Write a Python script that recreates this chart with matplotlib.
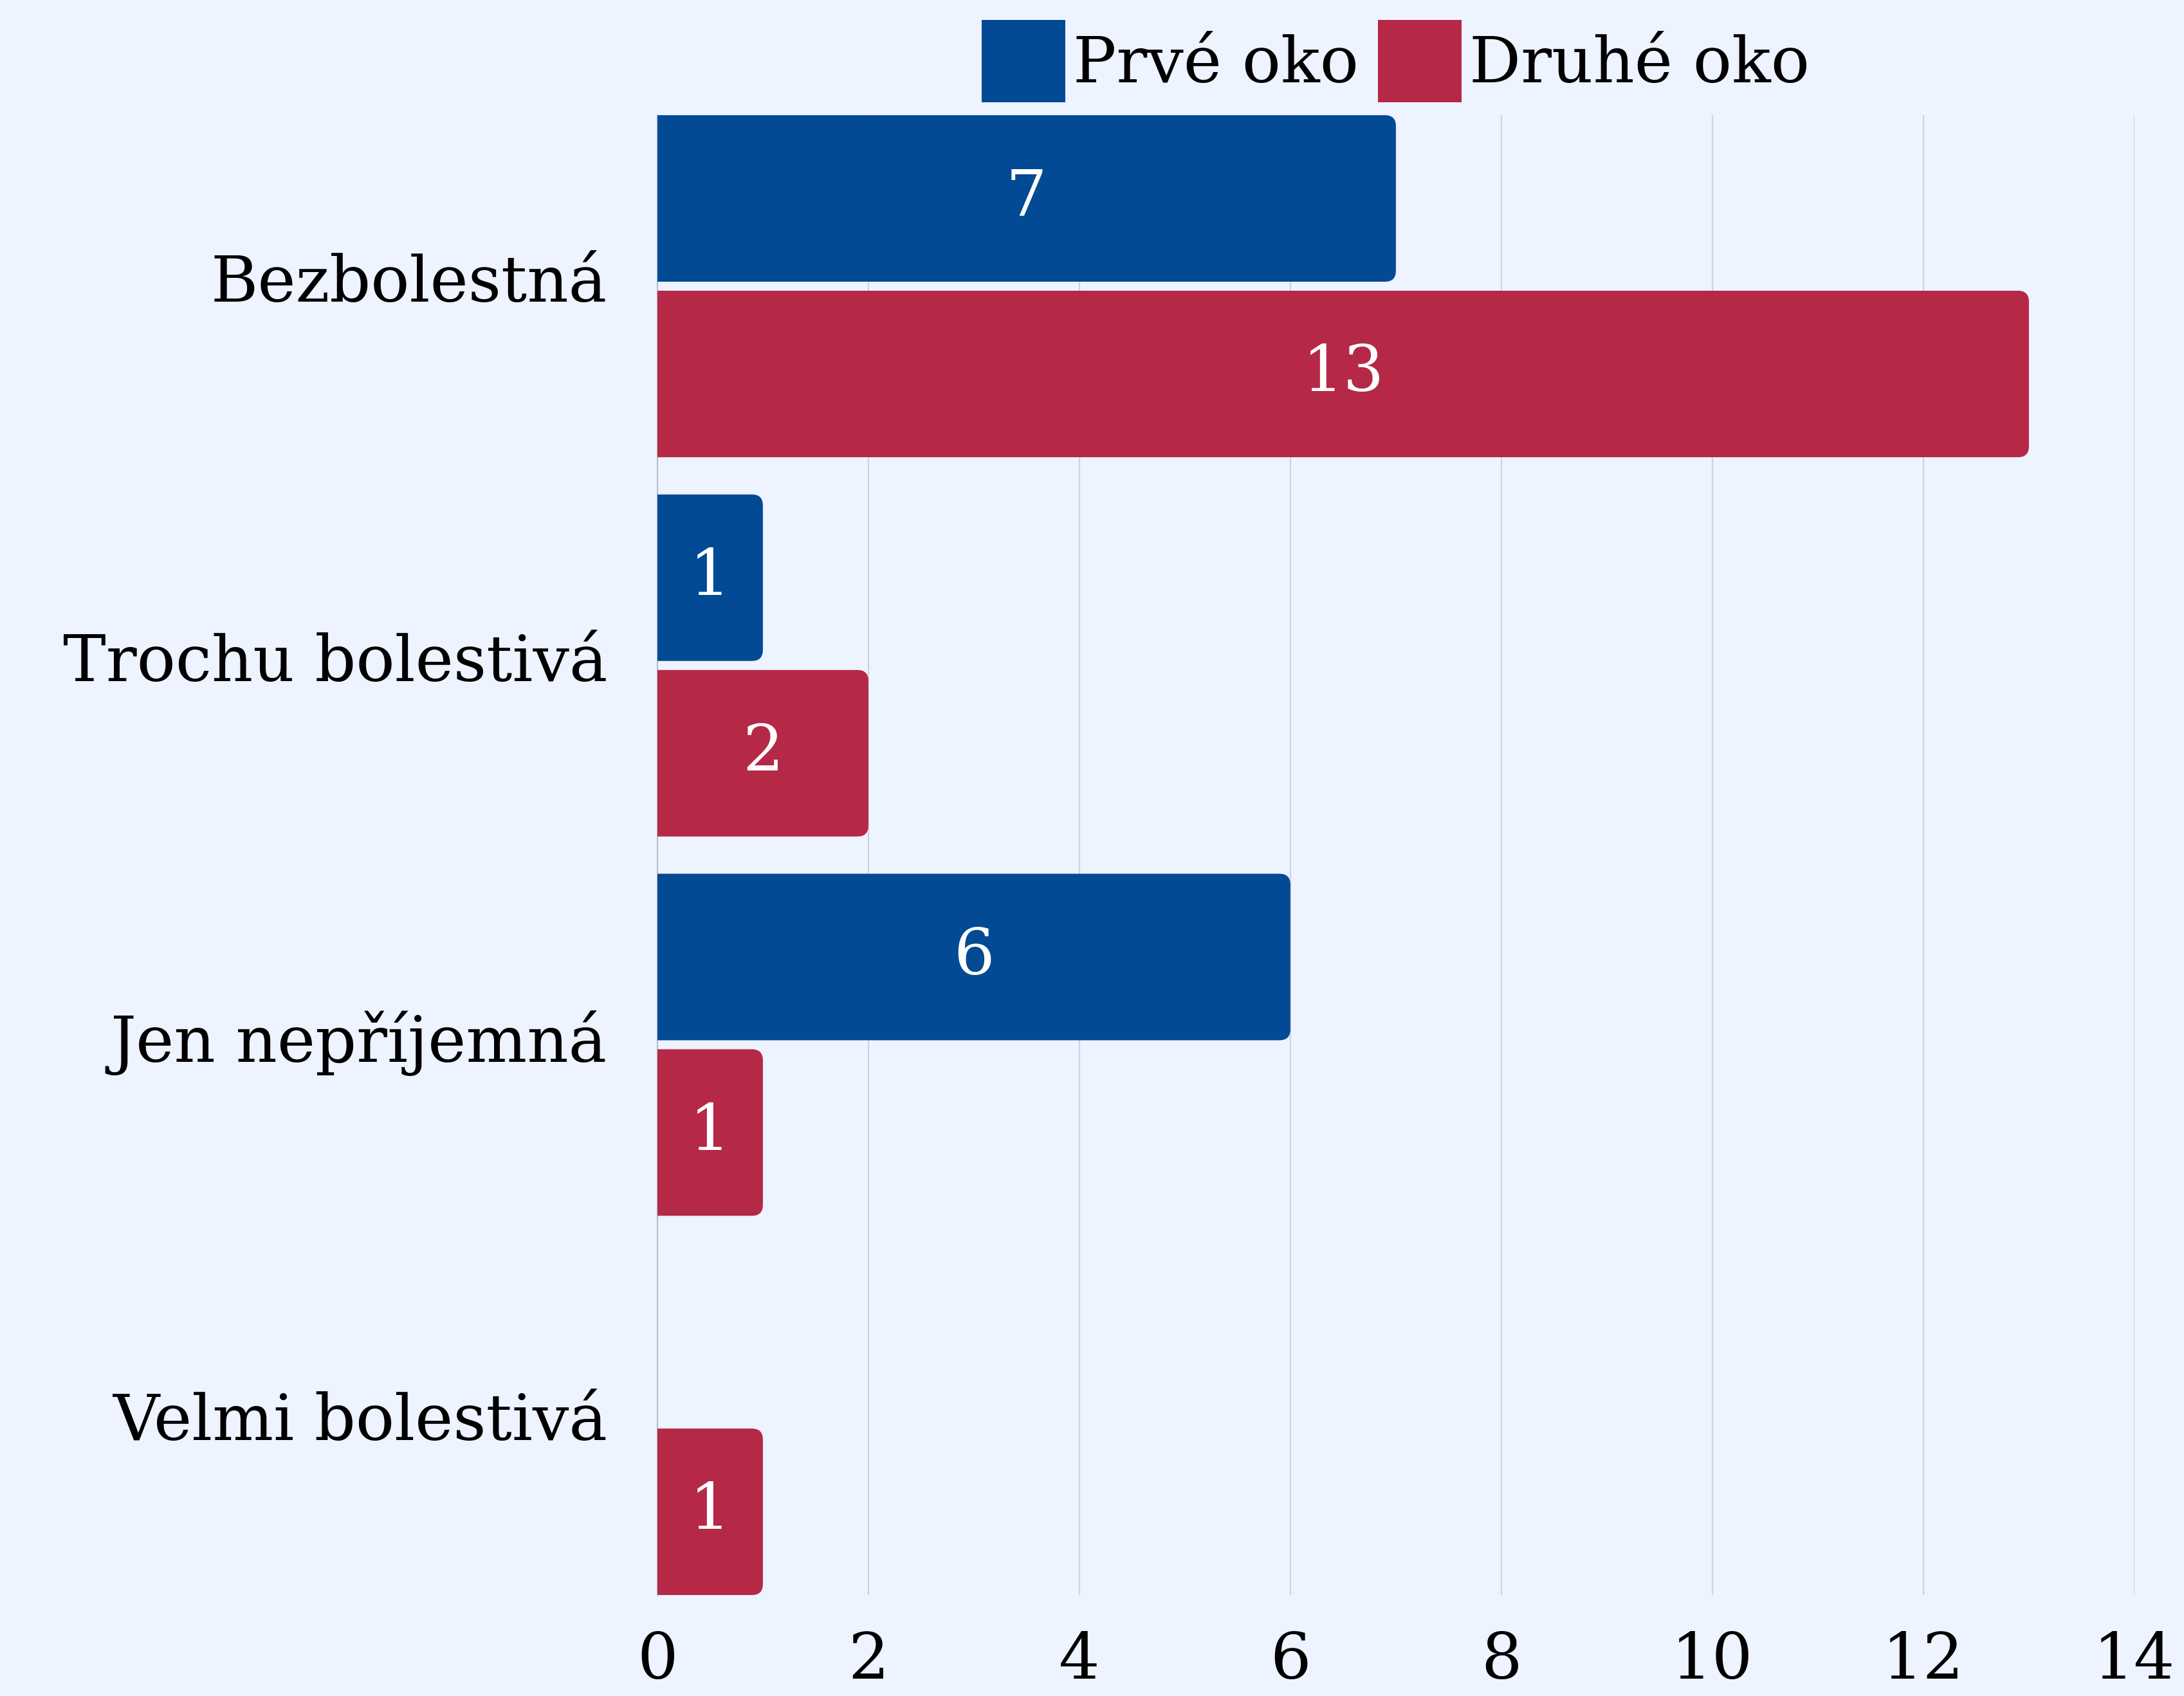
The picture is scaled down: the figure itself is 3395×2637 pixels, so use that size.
import matplotlib.pyplot as plt
import matplotlib.transforms as mtransforms
from matplotlib.patches import FancyBboxPatch, Patch

categories = ['Bezbolestná', 'Trochu bolestivá', 'Jen nepříjemná', 'Velmi bolestivá']
prve_oko = [7, 1, 6, 0]
druhe_oko = [13, 2, 1, 1]
series_names = ['Prvé oko', 'Druhé oko']
x_ticks = [0, 2, 4, 6, 8, 10, 12, 14]

blue = '#034A94'
red = '#B52846'
bg = '#EDF3FF'

plt.rcParams['font.family'] = ['DejaVu Serif']
fs = 72

fig = plt.figure(figsize=(33.95, 26.37), dpi=100, facecolor=bg)
ax = fig.add_axes([0.301, 0.0595, 0.6763, 0.8726])
ax.set_facecolor(bg)

h = 0.439
off = 0.2314
ypos = list(range(len(categories)))
b1 = ax.barh([y - off for y in ypos], prve_oko, height=h, color=blue)
b2 = ax.barh([y + off for y in ypos], druhe_oko, height=h, color=red)

ax.set_xlim(0, 14)
ax.set_ylim(3.451, -0.451)

# rounded right ends: x units / y units per pixel
xpp = 14 / (0.6763 * 3395)
ypp = 3.902 / (0.8726 * 2637)
r = 17 * xpp
asp = ypp / xpp
for cont, col, vals in [(b1, blue, prve_oko), (b2, red, druhe_oko)]:
    for rect, v in zip(cont.patches, vals):
        rect.set_visible(False)
        if v == 0:
            continue
        x0, y0, w, hh = rect.get_x(), rect.get_y(), rect.get_width(), rect.get_height()
        p = FancyBboxPatch((x0 - 2 * r, y0), w + 2 * r, hh,
                           boxstyle=f'round,pad=0,rounding_size={r}',
                           mutation_aspect=asp, facecolor=col, edgecolor='none',
                           zorder=3)
        ax.add_patch(p)
        ax.text(v / 2, y0 + hh / 2, str(v), color='white', fontsize=fs,
                ha='center', va='center', zorder=4)

ax.set_xticks(x_ticks)
ax.set_xticklabels([str(t) for t in x_ticks], fontsize=fs)
ax.set_yticks(ypos)
ax.set_yticklabels(categories, fontsize=fs)
ax.tick_params(axis='x', length=0, pad=40)
ax.tick_params(axis='y', length=0, pad=56)
shift = mtransforms.ScaledTranslation(0, 0.13, fig.dpi_scale_trans)
for lab in ax.get_yticklabels():
    lab.set_transform(lab.get_transform() + shift)
ax.grid(axis='x', color='#CDD3DC', linewidth=1.5, zorder=0)
ax.set_axisbelow(True)
for s in ['top', 'right', 'bottom']:
    ax.spines[s].set_visible(False)
ax.spines['left'].set_color('#B8BEC6')
ax.spines['left'].set_linewidth(1.5)

handles = [Patch(facecolor=blue), Patch(facecolor=red)]
fig.legend(handles, series_names, loc='center', bbox_to_anchor=(0.639, 0.964),
           ncol=2, frameon=False, fontsize=fs, handlelength=1.3, handleheight=1.59,
           handletextpad=0.12, columnspacing=0.3, borderpad=0)

fig.savefig('out.png', dpi=100, facecolor=bg)
